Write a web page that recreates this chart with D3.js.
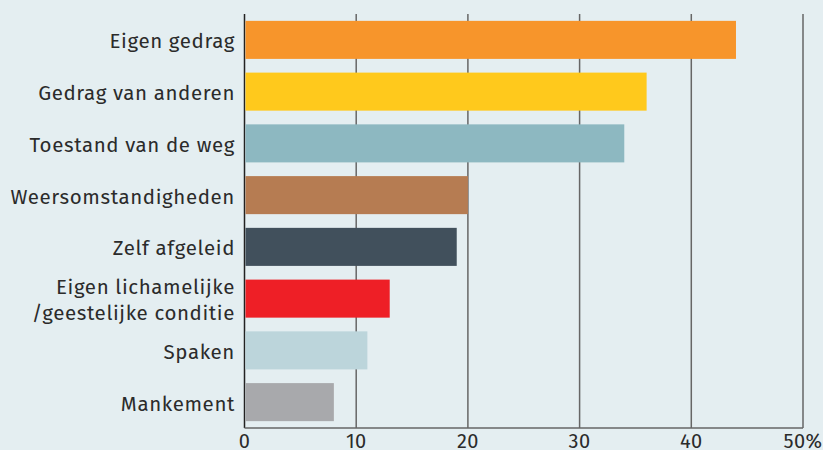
<!DOCTYPE html>
<html>
<head>
<meta charset="utf-8">
<script src="https://cdn.jsdelivr.net/npm/d3@7"></script>
<style>
  html, body { margin: 0; padding: 0; background: #e4eef1; }
  svg { display: block; }
  text { font-family: 'Fira Sans', 'Noto Sans', 'Open Sans', sans-serif; fill: #2b2b2b; }
</style>
</head>
<body>
<div id="chart"></div>
<script>
// Data
const categories = [
  ['Eigen gedrag'],
  ['Gedrag van anderen'],
  ['Toestand van de weg'],
  ['Weersomstandigheden'],
  ['Zelf afgeleid'],
  ['Eigen lichamelijke', '/geestelijke conditie'],
  ['Spaken'],
  ['Mankement'],
];
const values = [44, 36, 34, 20, 19, 13, 11, 8];
const colors = ['#f7952b', '#ffc91c', '#8db8c1', '#b67c52', '#41505c', '#ee1f26', '#bcd5db', '#a8a9ac'];
const ticks = [0, 10, 20, 30, 40, 50];

const width = 823;
const height = 450;
const margin = { t: 14, r: 20, b: 22, l: 244.5 };

const svg = d3
  .select('#chart')
  .append('svg')
  .attr('width', width)
  .attr('height', height);

svg.append('rect').attr('width', width).attr('height', height).attr('fill', '#e4eef1');

const x = d3.scaleLinear().domain([0, 50]).range([margin.l, 803]);
const y = d3
  .scaleBand()
  .domain(d3.range(categories.length))
  .range([margin.t, height - margin.b])
  .paddingInner(0.265)
  .paddingOuter(0.1325);

// gridlines
svg
  .selectAll('.grid')
  .data(ticks)
  .join('line')
  .attr('class', 'grid')
  .attr('x1', (d) => x(d))
  .attr('x2', (d) => x(d))
  .attr('y1', margin.t)
  .attr('y2', height - margin.b)
  .attr('stroke', (d) => (d === 0 ? '#222' : '#666'))
  .attr('stroke-width', 1.5);

// bottom axis line
svg
  .append('line')
  .attr('x1', x(0))
  .attr('x2', x(50))
  .attr('y1', height - margin.b)
  .attr('y2', height - margin.b)
  .attr('stroke', '#666')
  .attr('stroke-width', 1.5);

// bars
svg
  .selectAll('.bar')
  .data(values)
  .join('rect')
  .attr('class', 'bar')
  .attr('x', x(0) + 1)
  .attr('y', (d, i) => y(i))
  .attr('width', (d) => x(d) - x(0) - 1)
  .attr('height', y.bandwidth())
  .attr('fill', (d, i) => colors[i]);

// category labels
const labels = svg
  .selectAll('.label')
  .data(categories)
  .join('text')
  .attr('class', 'label')
  .attr('text-anchor', 'end')
  .attr('font-size', '20.5px')
  .attr('letter-spacing', '0.6px');

labels.each(function (lines, i) {
  const cy = y(i) + y.bandwidth() / 2;
  const lh = 26;
  const top = cy - ((lines.length - 1) * lh) / 2;
  d3.select(this)
    .selectAll('tspan')
    .data(lines)
    .join('tspan')
    .attr('x', 235)
    .attr('y', (d, j) => top + j * lh + 8.5)
    .text((d) => d);
});

// tick labels
svg
  .selectAll('.tick')
  .data(ticks)
  .join('text')
  .attr('class', 'tick')
  .attr('x', (d) => x(d))
  .attr('y', 448)
  .attr('text-anchor', 'middle')
  .attr('font-size', '20px')
  .attr('letter-spacing', '0.4px')
  .text((d) => (d === 50 ? `${d}%` : d));
</script>
</body>
</html>
